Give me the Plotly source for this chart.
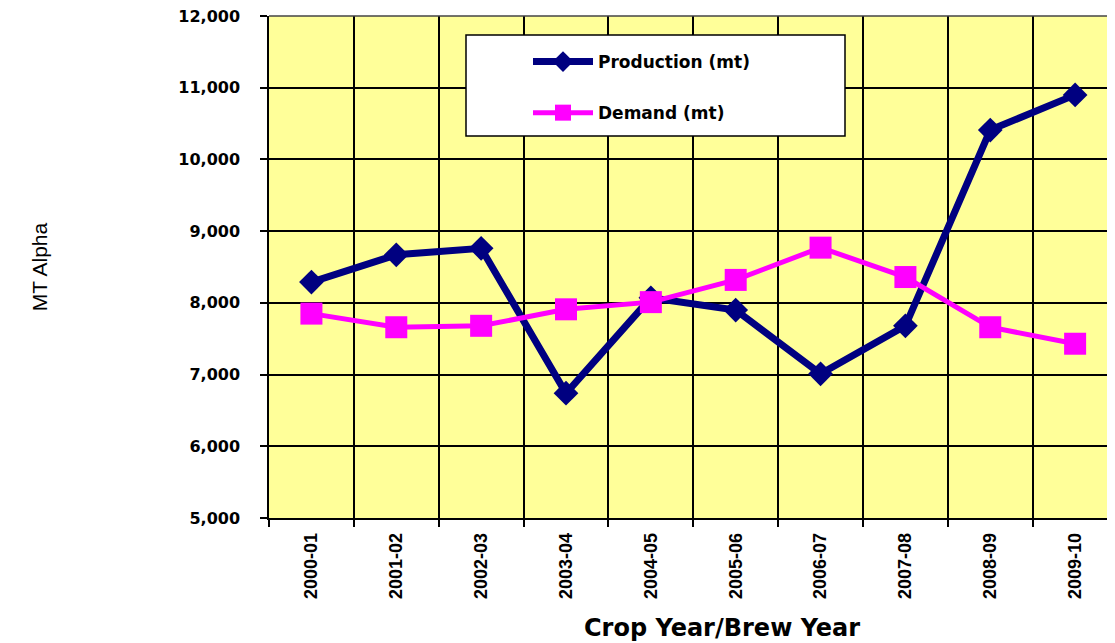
import plotly.graph_objects as go

years = ["2000-01", "2001-02", "2002-03", "2003-04", "2004-05",
         "2005-06", "2006-07", "2007-08", "2008-09", "2009-10"]
production = [8290, 8670, 8760, 6740, 8070, 7900, 7010, 7680, 10410, 10900]
demand = [7850, 7660, 7680, 7910, 8010, 8320, 8770, 8360, 7660, 7430]

# page has an 8px body margin; figure coordinates are page coordinates minus 8
OFF = 8
W, H = 1115 - OFF, 643 - OFF
L, R, T, B = 269 - OFF, 0, 16 - OFF, 643 - 518
pw = W - L - R
ph = H - T - B

def px_x(x):  # page pixel -> paper
    return (x - OFF - L) / pw

def px_y(y):
    return (H - B - (y - OFF)) / ph

fig = go.Figure()
fig.add_trace(go.Scatter(
    x=years, y=production, name="Production (mt)", mode="lines+markers",
    line=dict(color="#000080", width=7),
    marker=dict(symbol="diamond", size=19, color="#000080"),
    legendgroup="p",
))
fig.add_trace(go.Scatter(
    x=years, y=demand, name="Demand (mt)", mode="lines+markers",
    line=dict(color="#FF00FF", width=5),
    marker=dict(symbol="square", size=22, color="#FF00FF"),
    legendgroup="d",
))

fig.update_layout(
    width=W, height=H,
    margin=dict(l=L, r=R, t=T, b=B, autoexpand=False),
    paper_bgcolor="white",
    plot_bgcolor="#FFFF99",
    showlegend=True,
    legend=dict(
        x=px_x(528), y=px_y(44), xanchor="left", yanchor="top",
        bgcolor="rgba(0,0,0,0)", borderwidth=0,
        font=dict(family="DejaVu Sans", size=17, color="black", weight="bold"),
        tracegroupgap=26, itemwidth=60,
    ),
    shapes=[
        dict(type="line", xref="paper", yref="paper",
             x0=0, x1=1, y0=1, y1=1,
             line=dict(color="#444444", width=1.5), layer="above"),
        dict(type="rect", xref="paper", yref="paper",
             x0=px_x(466), x1=px_x(845), y0=px_y(136), y1=px_y(35),
             fillcolor="white", line=dict(color="black", width=1.5), layer="above"),
    ],
    annotations=[dict(
        text="Crop Year/Brew Year", xref="paper", yref="paper",
        x=px_x(722), y=px_y(628), xanchor="center", yanchor="middle",
        showarrow=False,
        font=dict(family="DejaVu Sans", size=24, color="black", weight="bold"),
    )],
)

fig.update_xaxes(
    type="category", range=[-0.5, 9.47],
    tickson="boundaries", ticks="outside", ticklen=7, tickcolor="black", tickwidth=1.5,
    showgrid=True, gridcolor="black", gridwidth=1.5,
    showline=True, linecolor="black", linewidth=1.5,
    tickangle=-90, ticklabelstandoff=6,
    tickfont=dict(family="Liberation Sans, Arial", size=18,
                  color="black", weight="bold"),
    automargin=False, ticklabeloverflow="allow",
)
fig.update_yaxes(
    range=[5000, 12000], dtick=1000, tickformat=",d",
    ticks="outside", ticklen=7, tickcolor="black", tickwidth=1.5,
    showgrid=True, gridcolor="black", gridwidth=1.5,
    showline=True, linecolor="black", linewidth=1.5,
    ticklabelstandoff=17, ticklabeloverflow="allow",
    tickfont=dict(family="DejaVu Sans", size=16, color="black", weight="bold"),
    title=dict(text="MT Alpha", standoff=125,
               font=dict(family="Arial", size=21, color="black")),
    automargin=False, zeroline=False,
)

fig.write_html("out.html")
